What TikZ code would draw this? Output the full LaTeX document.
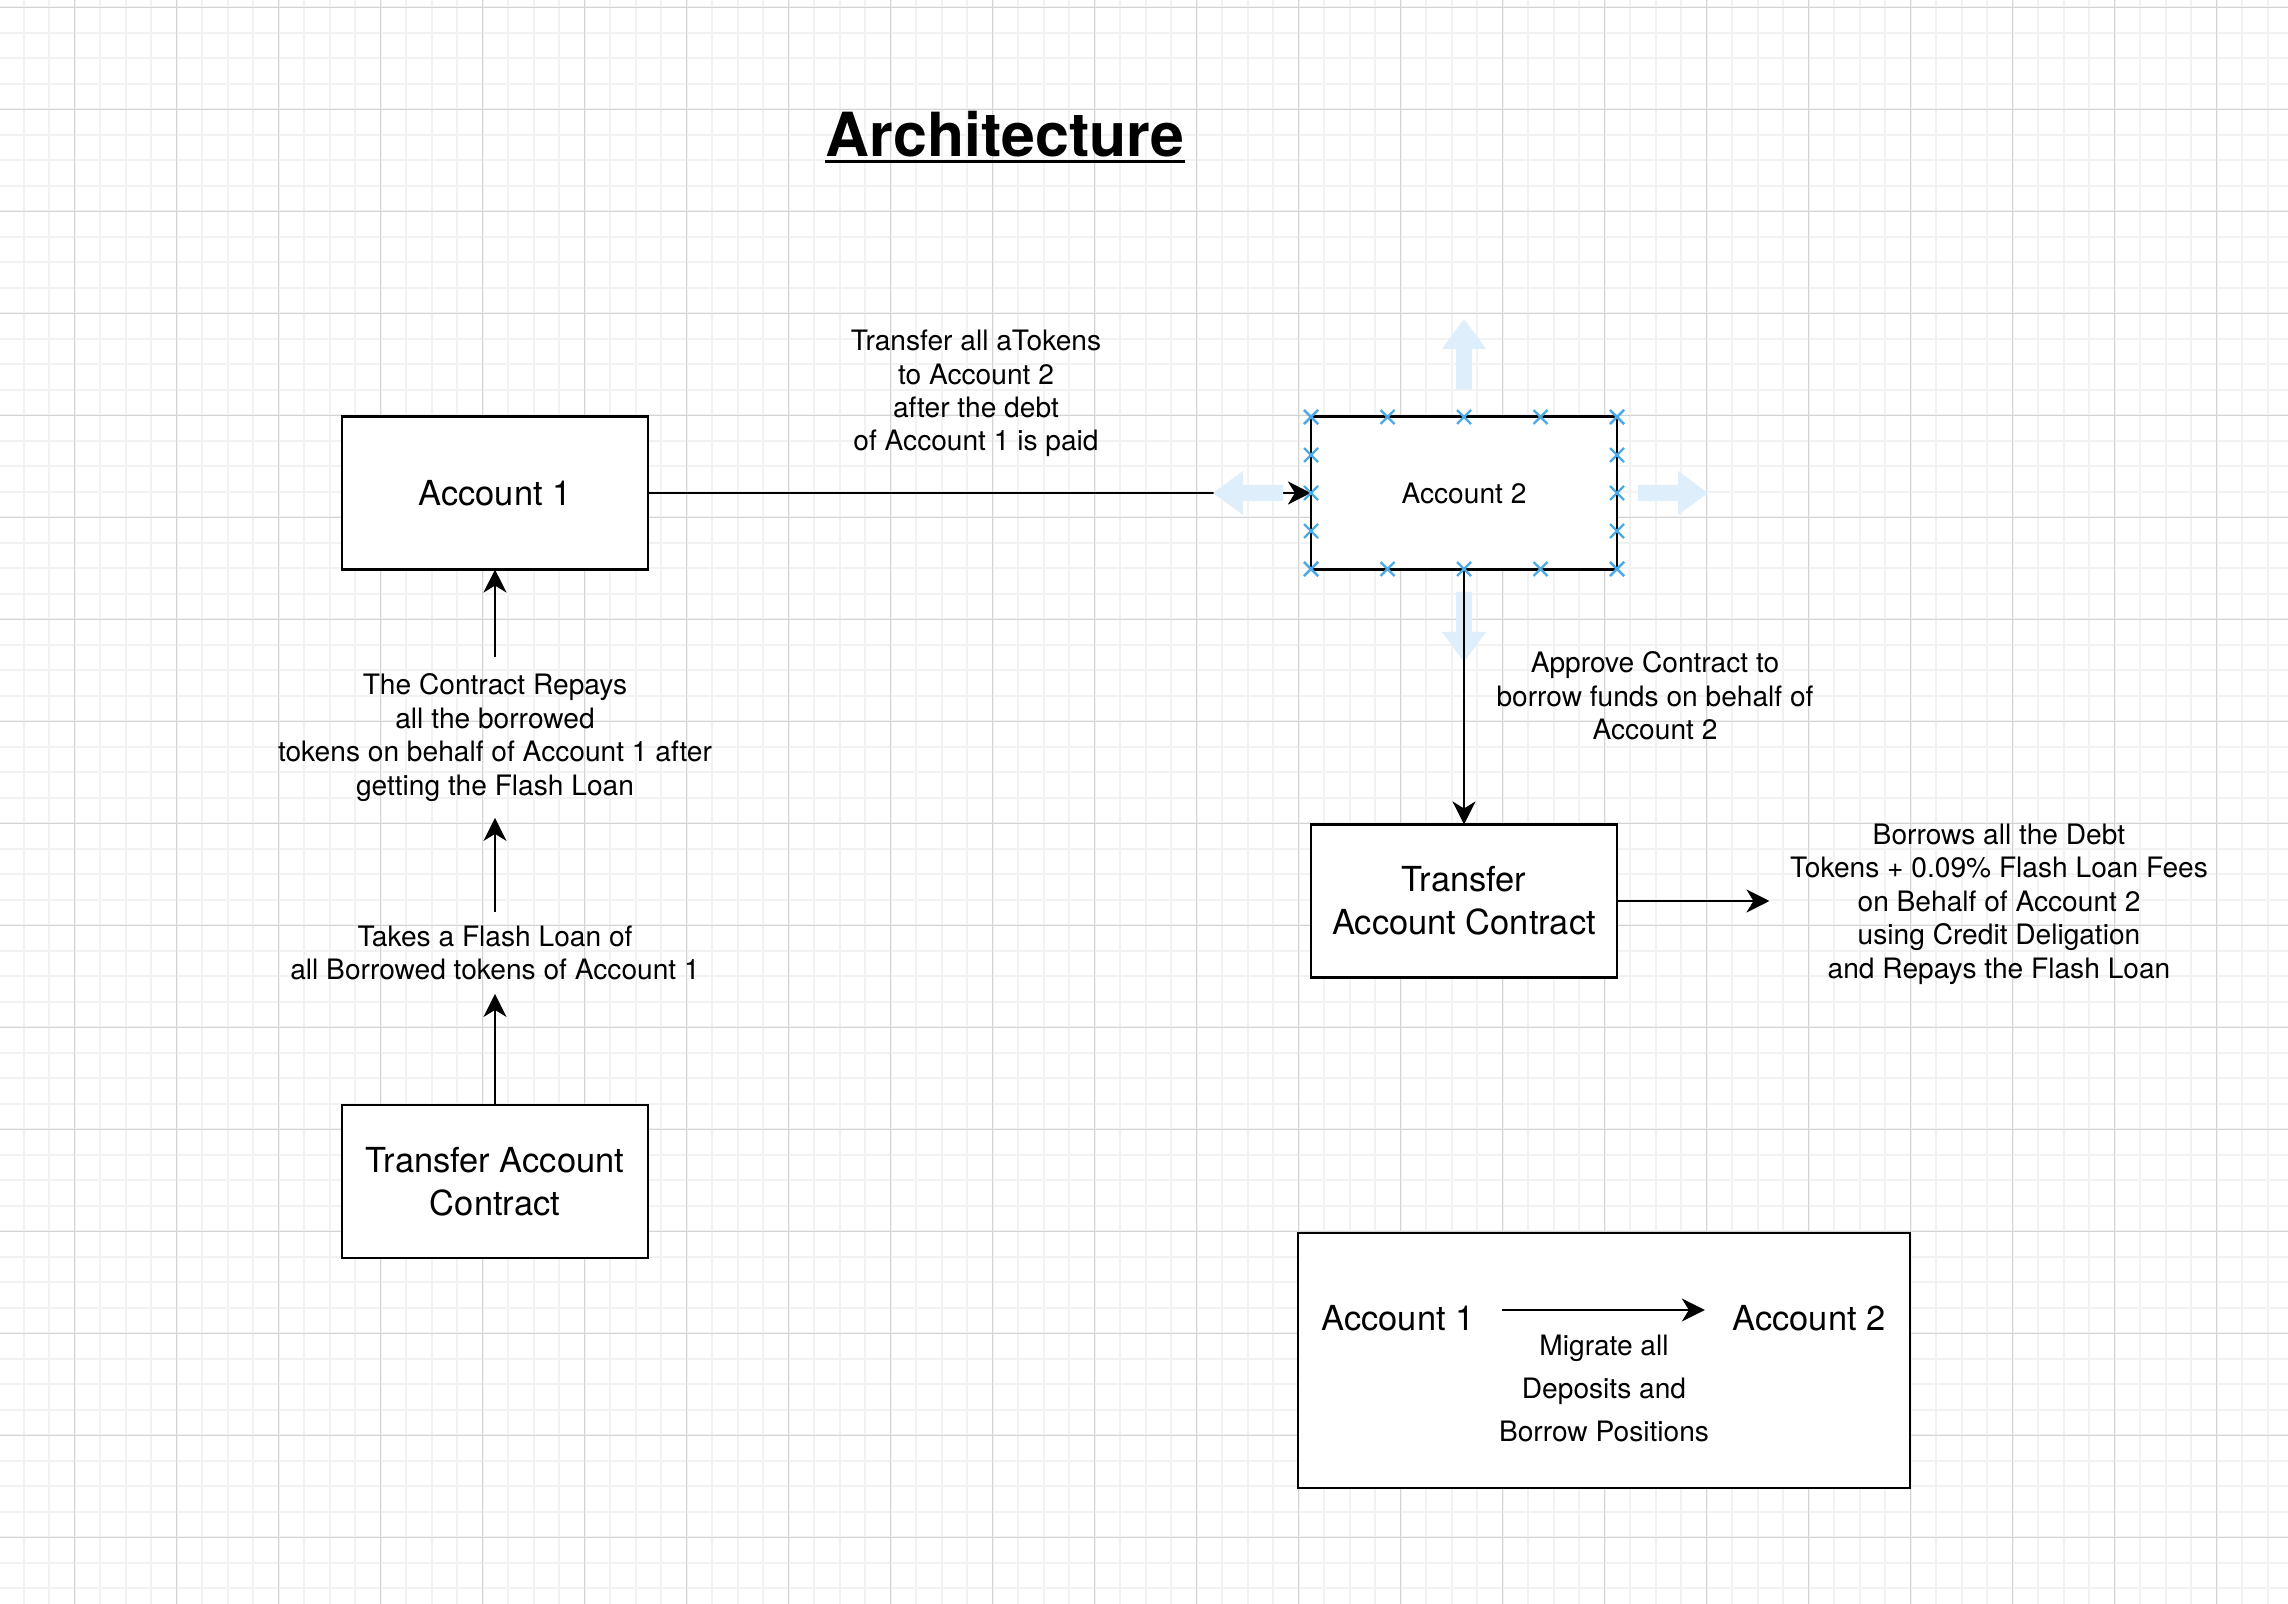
\documentclass[tikz,border=0pt]{standalone}
\usepackage{fontspec}
\setmainfont{TeX Gyre Heros}
\usepackage{tikz}
\usetikzlibrary{arrows.meta, positioning}

\definecolor{gridminor}{RGB}{242,242,242}
\definecolor{gridmajor}{RGB}{212,212,212}
\definecolor{pinblue}{RGB}{78,170,230}
\definecolor{hoverblue}{RGB}{222,238,250}

\begin{document}
\begin{tikzpicture}[x=0.01cm, y=-0.01cm,
    box/.style={draw, line width=0.022cm, fill=white, outer sep=0pt, inner sep=0pt,
      minimum width=3.06cm, minimum height=1.53cm, align=center,
      font=\fontsize{9.8}{12.3}\selectfont},
    lbl/.style={align=center, inner xsep=0pt, font=\fontsize{8}{9.5}\selectfont},
    link/.style={line width=0.02cm, -{Stealth[length=2.3mm, width=2.3mm, inset=0.7mm]}},
    pin/.style={pinblue, line width=0.024cm},
    hoverarrow/.pic={\fill[hoverblue] (0,-8) -- (40,-8) -- (40,-22) -- (70,0)
      -- (40,22) -- (40,8) -- (0,8) -- cycle;}]

    \useasboundingbox (0,0) rectangle (2288,1604);
    \clip (0,0) rectangle (2288,1604);
    \fill[white] (0,0) rectangle (2288,1604);

    %% grid
    \foreach \i in {0,...,90}{
      \draw[gridminor, line width=0.02cm] (-1.8+25.5*\i,0) -- ++(0,1604);}
    \foreach \j in {0,...,63}{
      \draw[gridminor, line width=0.02cm] (0,7.3+25.5*\j) -- ++(2288,0);}
    \foreach \i in {0,...,22}{
      \draw[gridmajor, line width=0.013cm] (74.7+102*\i,0) -- ++(0,1604);}
    \foreach \j in {0,...,15}{
      \draw[gridmajor, line width=0.013cm] (0,7.3+102*\j) -- ++(2288,0);}

    %% title
    \node[font=\fontsize{17.3}{20}\selectfont\bfseries, inner sep=0pt, anchor=base]
      (title) at (1005,157) {Architecture};
    \draw[line width=0.033cm] ([yshift=-0.045cm]title.base west)
      -- ([yshift=-0.045cm]title.base east);

    %% left column
    \node[box] (acc1) at (495,493) {Account 1};
    \node[lbl, inner ysep=0.16cm] (repays) at (495,737.5)
      {The Contract Repays\\all the borrowed\\tokens on behalf of Account 1 after\\getting the Flash Loan};
    \node[lbl, inner ysep=0.13cm] (takes) at (495,953)
      {Takes a Flash Loan of\\all Borrowed tokens of Account 1};
    \node[box] (tac) at (495,1181.5) {Transfer Account\\Contract};

    \draw[link] (tac.north) -- (takes.south);
    \draw[link] (takes.north) -- (repays.south);
    \draw[link] (repays.north) -- (acc1.south);

    %% right column
    \pic[rotate=-90] at (1464,592) {hoverarrow};
    \pic[rotate=90] at (1464,389) {hoverarrow};
    \pic at (1638,493) {hoverarrow};

    \node[box, font=\fontsize{8}{9.5}\selectfont] (acc2) at (1464,493) {Account 2};
    \node[box] (tac2) at (1464,901) {Transfer\\Account Contract};
    \node[lbl] (xfer) at (976,393.5)
      {Transfer all aTokens\\to Account 2\\after the debt\\of Account 1 is paid};
    \node[lbl] (approve) at (1655,696)
      {Approve Contract to\\borrow funds on behalf of\\Account 2};
    \node[lbl, inner xsep=0.2cm] (borrows) at (1999,904)
      {Borrows all the Debt\\Tokens + 0.09\% Flash Loan Fees\\on Behalf of Account 2\\using Credit Deligation\\and Repays the Flash Loan};

    \draw[link] (acc1.east) -- (acc2.west);
    \draw[link] (acc2.south) -- (tac2.north);
    \draw[link] (tac2.east) -- (tac2.east -| borrows.west);

    \pic[rotate=180] at (1283,493) {hoverarrow};

    %% connection points of Account 2
    \foreach \i in {0,...,4}{
      \draw[pin] (1311+76.5*\i,417) +(-7,-7) -- +(7,7) +(-7,7) -- +(7,-7);
      \draw[pin] (1311+76.5*\i,569) +(-7,-7) -- +(7,7) +(-7,7) -- +(7,-7);
      \draw[pin] (1311,417+38*\i) +(-7,-7) -- +(7,7) +(-7,7) -- +(7,-7);
      \draw[pin] (1617,417+38*\i) +(-7,-7) -- +(7,7) +(-7,7) -- +(7,-7);}

    %% summary box
    \node[box, minimum width=6.12cm, minimum height=2.55cm] (summary) at (1604,1360.5) {};
    \node[font=\fontsize{9.8}{12.3}\selectfont, inner xsep=0.27cm] (from) at (1398,1318) {Account 1};
    \node[font=\fontsize{9.8}{12.3}\selectfont, inner xsep=0.27cm] (to) at (1809,1318) {Account 2};
    \node[lbl, font=\fontsize{8}{12.2}\selectfont] (migrate) at (1604,1388.5)
      {Migrate all\\Deposits and\\Borrow Positions};
    \draw[link] ([yshift=0.08cm]from.east) -- ([yshift=0.08cm]to.west);

\end{tikzpicture}
\end{document}
